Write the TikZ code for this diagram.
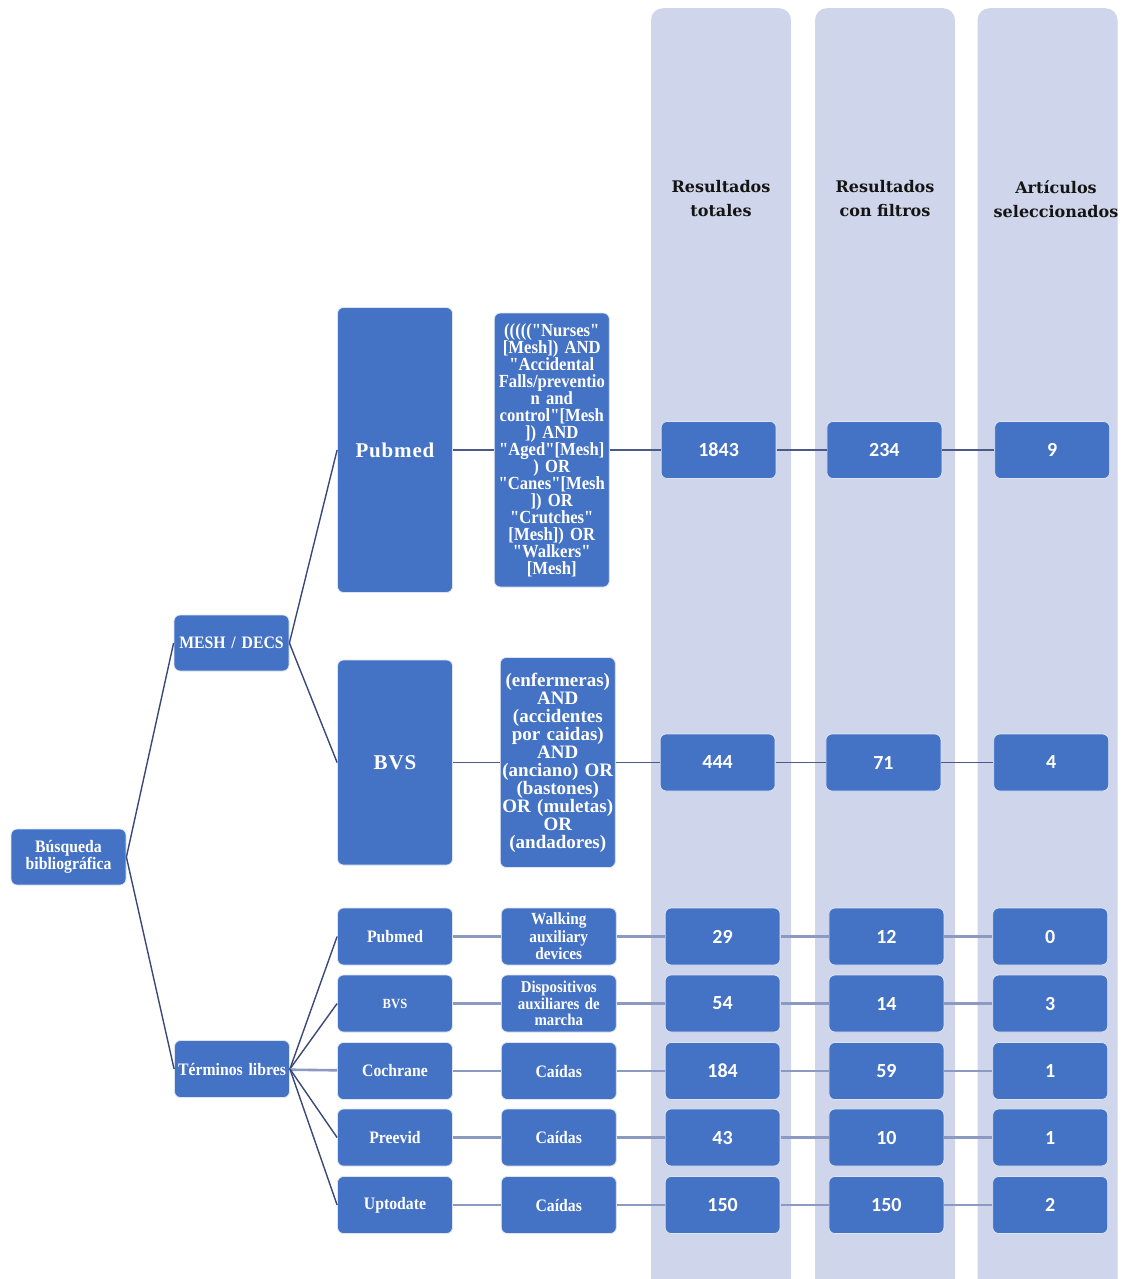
\documentclass[tikz,border=0pt]{standalone}
\usepackage{fontspec}
\usepackage{tikz}
\usetikzlibrary{positioning}
\newfontfamily\boxfont{Liberation Serif}[FakeStretch=0.9]
\newfontfamily\plainfont{Liberation Serif}
\newfontfamily\bigfont{Liberation Serif}[LetterSpace=4]
\newfontfamily\numfont{Carlito}
\newfontfamily\headfont{DejaVu Serif}
\definecolor{boxblue}{HTML}{4472C4}
\definecolor{boxedge}{HTML}{DCE4F4}
\definecolor{columnbg}{HTML}{CFD5EA}
\definecolor{treeblue}{HTML}{3A4878}
\definecolor{linkblue}{HTML}{4C5A86}
\definecolor{rowgrey}{HTML}{8C9AC2}
\definecolor{headtext}{HTML}{141414}
\tikzstyle{colbg} = [rectangle, rounded corners=12pt, fill=columnbg, minimum width=140pt, minimum height=1290pt, anchor=north, inner sep=0pt]
\tikzstyle{branch} = [rectangle, rounded corners=6pt, minimum width=115pt, minimum height=57pt, text width=112pt, align=center, inner sep=1pt, draw=boxedge, line width=0.8pt, fill=boxblue, text=white, font=\boxfont\bfseries\fontsize{17.5}{17.5}\selectfont]
\tikzstyle{bigbranch} = [branch, minimum height=285pt, font=\bigfont\bfseries\fontsize{21}{21}\selectfont]
\tikzstyle{query} = [branch, font=\boxfont\bfseries\fontsize{18.5}{17}\selectfont]
\tikzstyle{numbox} = [branch, font=\numfont\bfseries\fontsize{20}{20}\selectfont]
\tikzstyle{header} = [align=center, text=headtext, font=\headfont\bfseries\fontsize{16}{24}\selectfont]
\tikzstyle{treeline} = [line width=1.4pt, color=treeblue]
\tikzstyle{topline} = [line width=1.8pt, color=linkblue]
\tikzstyle{rowline} = [line width=2.6pt, color=rowgrey]

\begin{document}
\begin{tikzpicture}[x=1pt, y=-1pt, node distance=48pt]
    \useasboundingbox (0,0) rectangle (1130,1279);
    % result columns
    \node[colbg] (col1) at (721,8) {};
    \node[colbg] (col2) at (885,8) {};
    \node[colbg] (col3) at (1047.5,8) {};
    \node[header] (head1) at (721,199) {Resultados\\totales};
    \node[header] (head2) at (885,199) {Resultados\\con filtros};
    \node[header] (head3) at (1056,199) {Artículos\\seleccionados};

    % tree
    \node[branch, minimum height=56pt, font=\boxfont\bfseries\fontsize{17.5}{16}\selectfont] (busq) at (68.5,857) {Búsqueda\\bibliográfica};
    \node[branch, minimum height=56pt] (mesh) at (231.5,643) {MESH / DECS};
    \node[branch] (libres) at (232,1069) {Términos libres};

    % MESH / DECS rows
    \node[bigbranch] (pubmed) at (395,450) {Pubmed};
    \node[bigbranch, minimum height=205pt] (bvs) at (395,762.5) {BVS};
    \node[query, minimum height=274pt, right=41pt of pubmed] (qpubmed) {((((("Nurses"\\{[}Mesh]) AND\\"Accidental\\Falls/preventio\\n and\\control"[Mesh\\]) AND\\"Aged"[Mesh]\\) OR\\"Canes"[Mesh\\]) OR\\"Crutches"\\{[}Mesh]) OR\\"Walkers"\\{[}Mesh]};
    \node[query, minimum height=210pt, font=\plainfont\bfseries\fontsize{19}{18}\selectfont, right=47pt of bvs] (qbvs) {(enfermeras)\\AND\\(accidentes\\por caidas)\\AND\\(anciano) OR\\(bastones)\\OR (muletas)\\OR\\(andadores)};
    \node[numbox, right=51pt of qpubmed] (totpub) {1843};
    \node[numbox, right=50pt of totpub] (filpub) {234};
    \node[numbox, right=52pt of filpub] (selpub) {9};
    \node[numbox, right=44pt of qbvs] (totbvs) {444};
    \node[numbox, right=50pt of totbvs] (filbvs) {71};
    \node[numbox, right=52pt of filbvs] (selbvs) {4};

    % free terms rows
    \node[branch] (pub2) at (395,936.5) {Pubmed};
    \node[branch, right=of pub2, font=\boxfont\bfseries\fontsize{17}{17.5}\selectfont] (kwpub2) {Walking\\auxiliary\\devices};
    \node[numbox, right=of kwpub2] (totpub2) {29};
    \node[numbox, right=of totpub2] (filpub2) {12};
    \node[numbox, right=of filpub2] (selpub2) {0};

    \node[branch, font=\boxfont\bfseries\fontsize{14}{14}\selectfont] (bvs2) at (395,1003.5) {BVS};
    \node[branch, right=of bvs2, font=\boxfont\bfseries\fontsize{16.5}{16.5}\selectfont] (kwbvs2) {Dispositivos\\auxiliares de\\marcha};
    \node[numbox, right=of kwbvs2] (totbvs2) {54};
    \node[numbox, right=of totbvs2] (filbvs2) {14};
    \node[numbox, right=of filbvs2] (selbvs2) {3};

    \node[branch] (coch) at (395,1071) {Cochrane};
    \node[branch, right=of coch] (kwcoch) {Caídas};
    \node[numbox, right=of kwcoch] (totcoch) {184};
    \node[numbox, right=of totcoch] (filcoch) {59};
    \node[numbox, right=of filcoch] (selcoch) {1};

    \node[branch] (pree) at (395,1137.5) {Preevid};
    \node[branch, right=of pree] (kwpree) {Caídas};
    \node[numbox, right=of kwpree] (totpree) {43};
    \node[numbox, right=of totpree] (filpree) {10};
    \node[numbox, right=of filpree] (selpree) {1};

    \node[branch] (upto) at (395,1205) {Uptodate};
    \node[branch, right=of upto] (kwupto) {Caídas};
    \node[numbox, right=of kwupto] (totupto) {150};
    \node[numbox, right=of totupto] (filupto) {150};
    \node[numbox, right=of filupto] (selupto) {2};

    \draw[treeline] (busq.east) -- (mesh.west);
    \draw[treeline] (busq.east) -- (libres.west);
    \draw[treeline] (mesh.east) -- (pubmed.west);
    \draw[treeline] (mesh.east) -- (bvs.west);
    \draw[topline] (pubmed) -- (qpubmed);
    \draw[topline] (qpubmed) -- (totpub);
    \draw[topline] (totpub) -- (filpub);
    \draw[topline] (filpub) -- (selpub);
    \draw[topline] (bvs) -- (qbvs);
    \draw[topline] (qbvs) -- (totbvs);
    \draw[topline] (totbvs) -- (filbvs);
    \draw[topline] (filbvs) -- (selbvs);
    \draw[treeline] (libres.east) -- (pub2.west);
    \draw[treeline] (libres.east) -- (bvs2.west);
    \draw[rowline] (libres) -- (coch);
    \draw[treeline] (libres.east) -- (pree.west);
    \draw[treeline] (libres.east) -- (upto.west);
    \draw[rowline] (pub2) -- (kwpub2);
    \draw[rowline] (kwpub2) -- (totpub2);
    \draw[rowline] (totpub2) -- (filpub2);
    \draw[rowline] (filpub2) -- (selpub2);
    \draw[rowline] (bvs2) -- (kwbvs2);
    \draw[rowline] (kwbvs2) -- (totbvs2);
    \draw[rowline] (totbvs2) -- (filbvs2);
    \draw[rowline] (filbvs2) -- (selbvs2);
    \draw[rowline] (coch) -- (kwcoch);
    \draw[rowline] (kwcoch) -- (totcoch);
    \draw[rowline] (totcoch) -- (filcoch);
    \draw[rowline] (filcoch) -- (selcoch);
    \draw[rowline] (pree) -- (kwpree);
    \draw[rowline] (kwpree) -- (totpree);
    \draw[rowline] (totpree) -- (filpree);
    \draw[rowline] (filpree) -- (selpree);
    \draw[rowline] (upto) -- (kwupto);
    \draw[rowline] (kwupto) -- (totupto);
    \draw[rowline] (totupto) -- (filupto);
    \draw[rowline] (filupto) -- (selupto);
\end{tikzpicture}
\end{document}
